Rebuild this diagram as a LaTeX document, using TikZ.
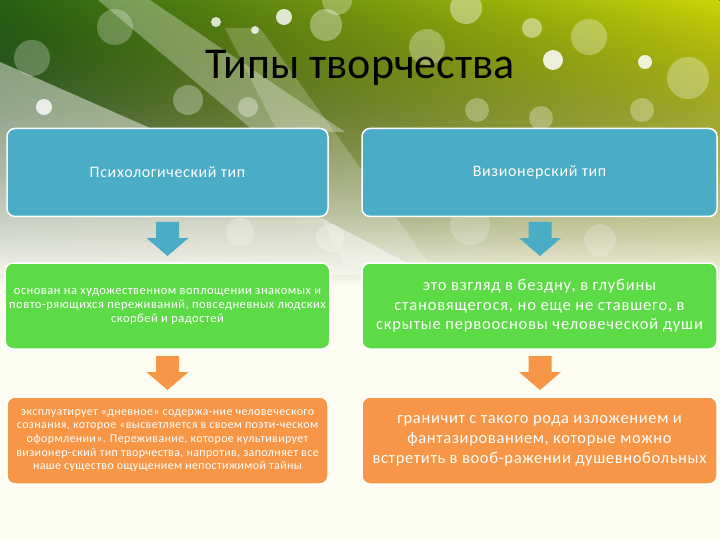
\documentclass[tikz,border=0pt]{standalone}
\usepackage{fontspec}
\setmainfont{Carlito}
\usetikzlibrary{fadings}
\definecolor{typeblue}{RGB}{75,172,198}
\definecolor{boxgreen}{RGB}{92,219,71}
\definecolor{boxorange}{RGB}{247,150,70}
\definecolor{bgcream}{RGB}{253,252,241}
\definecolor{bgdark}{RGB}{38,96,20}
\definecolor{bgmid}{RGB}{96,150,18}
\definecolor{bglime}{RGB}{204,214,8}
\tikzfading[name=bandfade, top color=transparent!0, middle color=transparent!10, bottom color=transparent!100]
\tikzset{
  typebox/.style={draw=white, line width=1.5pt, rounded corners=8pt, text=white,
    align=center, inner sep=4pt, minimum height=88pt},
  headbox/.style={typebox, fill=typeblue, font=\fontsize{16}{19}\selectfont\addfontfeatures{LetterSpace=4}},
  midbox/.style={typebox, fill=boxgreen, minimum height=86pt},
  lowbox/.style={typebox, fill=boxorange, minimum height=87pt},
  bokeh/.style={fill=white, opacity=#1},
  downblock/.pic={\fill[pic actions] (-11.5,0) -- (11.5,0) -- (11.5,16) -- (21,16)
    -- (0,34) -- (-21,16) -- (-11.5,16) -- cycle;}
}
\begin{document}
\begin{tikzpicture}[x=1pt, y=-1pt]
  \useasboundingbox (0,0) rectangle (720,540);
  % background
  \fill[bgcream] (0,0) rectangle (720,540);
  \fill[left color=bgdark, middle color=bgmid, right color=bglime, path fading=bandfade]
    (0,0) rectangle (720,285);
  \fill[white, opacity=0.45] (0,62) -- (150,128) -- (430,275) -- (0,275) -- cycle;
  \fill[white, opacity=0.30] (98,0) -- (150,0) -- (345,132) -- (255,132) -- cycle;
  \fill[white, opacity=0.20] (225,28) -- (260,28) -- (430,265) -- (345,265) -- cycle;
  \foreach \cx/\cy/\r/\o in {216/22/5/.8, 255/30/4/.8, 284/17/8/.8, 326/25/16/.35,
      466/8/16/.4, 427/47/18/.3, 532/28/10/.45, 553/60/10/.85, 589/37/18/.3,
      645/62/7/.85, 688/78/21/.3, 32/58/18/.25, 115/27/18/.25, 44/107/8/.8,
      188/100/15/.3, 248/107/10/.35, 477/110/12/.3, 541/118/12/.3, 642/110/12/.3,
      337/0/15/.3, 240/232/14/.25, 330/238/14/.25, 470/225/20/.2, 600/240/16/.2}
    \fill[bokeh=\o] (\cx,\cy) circle (\r);
  % title
  \node (title) at (360,68) {\fontsize{44}{50}\selectfont Типы творчества};
  % psychological column
  \node[headbox, minimum width=321pt] (psyhead) at (167.5,172.5) {Психологический тип};
  \node[midbox, minimum width=321pt, font=\fontsize{12.5}{14}\selectfont\addfontfeatures{LetterSpace=4}]
    (psymid) at (167.5,306)
    {основан на художественном воплощении знакомых и\\
     повто-ряющихся переживаний, повседневных людских\\
     скорбей и радостей};
  \node[lowbox, minimum width=321pt, font=\fontsize{12}{13.7}\selectfont\addfontfeatures{LetterSpace=3}]
    (psylow) at (167.5,440.5)
    {эксплуатирует «дневное» содержа-ние человеческого\\
     сознания, которое «высветляется в своем поэти-ческом\\
     оформлении». Переживание, которое культивирует\\
     визионер-ский тип творчества, напротив, заполняет все\\
     наше существо ощущением непостижимой тайны};
  % visionary column
  \node[headbox, minimum width=355pt] (vishead) at (539.5,172.5) {Визионерский тип};
  \node[midbox, minimum width=355pt, font=\fontsize{16.5}{19.5}\selectfont\addfontfeatures{LetterSpace=5}]
    (vismid) at (539.5,306)
    {это взгляд в бездну, в глубины\\
     становящегося, но еще не ставшего, в\\
     скрытые первоосновы человеческой души};
  \node[lowbox, minimum width=355pt, font=\fontsize{16.5}{20}\selectfont\addfontfeatures{LetterSpace=4}]
    (vislow) at (539.5,440.5)
    {граничит с такого рода изложением и\\
     фантазированием, которые можно\\
     встретить в вооб-ражении душевнобольных};
  % block arrows
  \pic[fill=typeblue] at (167.5,222) {downblock};
  \pic[fill=typeblue] at (540,222) {downblock};
  \pic[fill=boxorange] at (167.5,356) {downblock};
  \pic[fill=boxorange] at (540,356) {downblock};
\end{tikzpicture}
\end{document}
